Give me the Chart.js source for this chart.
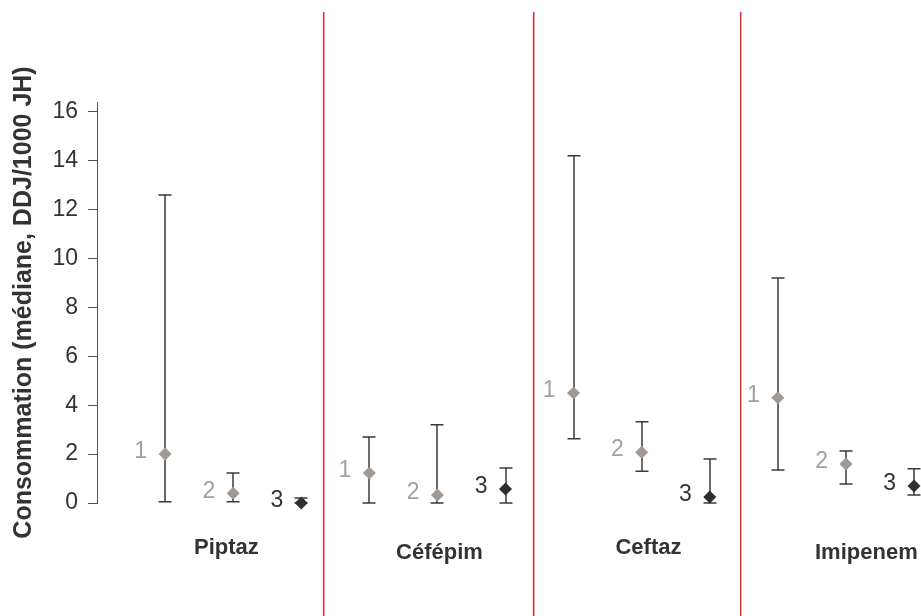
<!DOCTYPE html>
<html>
<head>
<meta charset="utf-8">
<script src="https://cdn.jsdelivr.net/npm/chart.js@4.4.0/dist/chart.umd.min.js"></script>
<style>
  html, body { margin: 0; padding: 0; background: #fff; overflow: hidden; }
  #wrap { width: 992px; height: 616px; }
</style>
</head>
<body>
<div id="wrap"><canvas id="c" width="992" height="616"></canvas></div>
<script>
// antibiotics (one group each) and series labels inside each group
const categories = ['Piptaz', 'Céfépim', 'Ceftaz', 'Imipenem'];
const seriesLabels = ['1', '2', '3'];
// median and range per series, one value per antibiotic
const medians1 = [2.0, 1.23, 4.5, 4.3];
const medians2 = [0.4, 0.33, 2.08, 1.6];
const medians3 = [0.0, 0.57, 0.25, 0.7];
const lows1 = [0.05, 0.0, 2.63, 1.35];
const lows2 = [0.05, 0.0, 1.3, 0.78];
const lows3 = [0.0, 0.0, 0.0, 0.33];
const highs1 = [12.6, 2.7, 14.2, 9.2];
const highs2 = [1.23, 3.2, 3.32, 2.13];
const highs3 = [0.2, 1.43, 1.8, 1.4];
const yTicks = [0, 2, 4, 6, 8, 10, 12, 14, 16];

const GREY = '#a39893';
const DARK = '#2f2f2f';
const seriesColors = [GREY, GREY, DARK];
const labelColors = ['#a69e9a', '#a69e9a', '#333333'];

const medians = [medians1, medians2, medians3];
const lows = [lows1, lows2, lows3];
const highs = [highs1, highs2, highs3];

const datasets = seriesLabels.map((s, j) => ({
  label: s,
  data: categories.map((c, g) => ({ x: g * 3 + j + 1, y: medians[j][g], lo: lows[j][g], hi: highs[j][g] })),
  pointStyle: 'rectRot',
  pointRadius: 6.5,
  pointHoverRadius: 6.5,
  backgroundColor: seriesColors[j],
  borderColor: seriesColors[j],
  borderWidth: 0,
  showLine: false,
  clip: false
}));

const decor = {
  id: 'decor',
  beforeDatasetsDraw(chart) {
    const ctx = chart.ctx;
    const xs = chart.scales.x, ys = chart.scales.y;
    ctx.save();
    // group separators (thin red rules with a soft edge)
    [3.32, 6.4, 9.45].forEach((v) => {
      const px = Math.round(xs.getPixelForValue(v));
      ctx.fillStyle = '#e3262d';
      ctx.fillRect(px, 12, 1, 604);
      ctx.fillStyle = 'rgba(227,38,45,0.45)';
      ctx.fillRect(px + 1, 12, 1, 604);
    });
    // error bars
    ctx.strokeStyle = '#3a3a3a';
    ctx.lineWidth = 1.5;
    chart.data.datasets.forEach((ds) => {
      ds.data.forEach((p) => {
        const px = Math.round(xs.getPixelForValue(p.x));
        const yl = ys.getPixelForValue(p.lo), yh = ys.getPixelForValue(p.hi);
        ctx.beginPath();
        ctx.moveTo(px, yl); ctx.lineTo(px, yh);
        ctx.moveTo(px - 6.5, yl); ctx.lineTo(px + 6.5, yl);
        ctx.moveTo(px - 6.5, yh); ctx.lineTo(px + 6.5, yh);
        ctx.stroke();
      });
    });
    ctx.restore();
  },
  afterDraw(chart) {
    const ctx = chart.ctx;
    const xs = chart.scales.x, ys = chart.scales.y;
    ctx.save();
    // series numbers left of each point
    ctx.font = '23px "Liberation Sans", Arial, sans-serif';
    ctx.textAlign = 'right';
    ctx.textBaseline = 'middle';
    chart.data.datasets.forEach((ds, j) => {
      ctx.fillStyle = labelColors[j];
      ds.data.forEach((p) => {
        ctx.fillText(ds.label, xs.getPixelForValue(p.x) - 18, ys.getPixelForValue(p.y) - 2);
      });
    });
    // category names, staggered like the original
    ctx.font = 'bold 22px "Liberation Sans", Arial, sans-serif';
    ctx.fillStyle = '#333333';
    ctx.textAlign = 'center';
    ctx.textBaseline = 'top';
    [1.9, 5.03, 8.1, 11.3].forEach((v, i) => {
      ctx.fillText(categories[i], xs.getPixelForValue(v), i % 2 ? 542 : 537);
    });
    // y axis title
    ctx.font = 'bold 25px "Liberation Sans", Arial, sans-serif';
    ctx.translate(24, (chart.chartArea.top + chart.chartArea.bottom) / 2);
    ctx.rotate(-Math.PI / 2);
    ctx.textBaseline = 'middle';
    ctx.fillText('Consommation (médiane, DDJ/1000 JH)', 0, 0);
    ctx.restore();
  }
};

new Chart(document.getElementById('c'), {
  type: 'scatter',
  data: { datasets },
  options: {
    responsive: false,
    animation: false,
    events: [],
    layout: { padding: { top: 102, bottom: 113, left: 0, right: 0 } },
    plugins: { legend: { display: false }, tooltip: { enabled: false } },
    scales: {
      x: { type: 'linear', display: false, min: 0, max: 13.05 },
      y: {
        min: 0,
        max: 16.4,
        afterBuildTicks: (s) => { s.ticks = yTicks.map((v) => ({ value: v })); },
        afterFit: (s) => { s.width = 97; },
        grid: { drawOnChartArea: false, drawTicks: true, tickLength: 9, color: '#555555', lineWidth: 1 },
        border: { display: true, color: '#555555', width: 1 },
        ticks: { color: '#333333', padding: 10, font: { family: '"Liberation Sans", Arial, sans-serif', size: 23 } }
      }
    }
  },
  plugins: [decor]
});
</script>
</body>
</html>
